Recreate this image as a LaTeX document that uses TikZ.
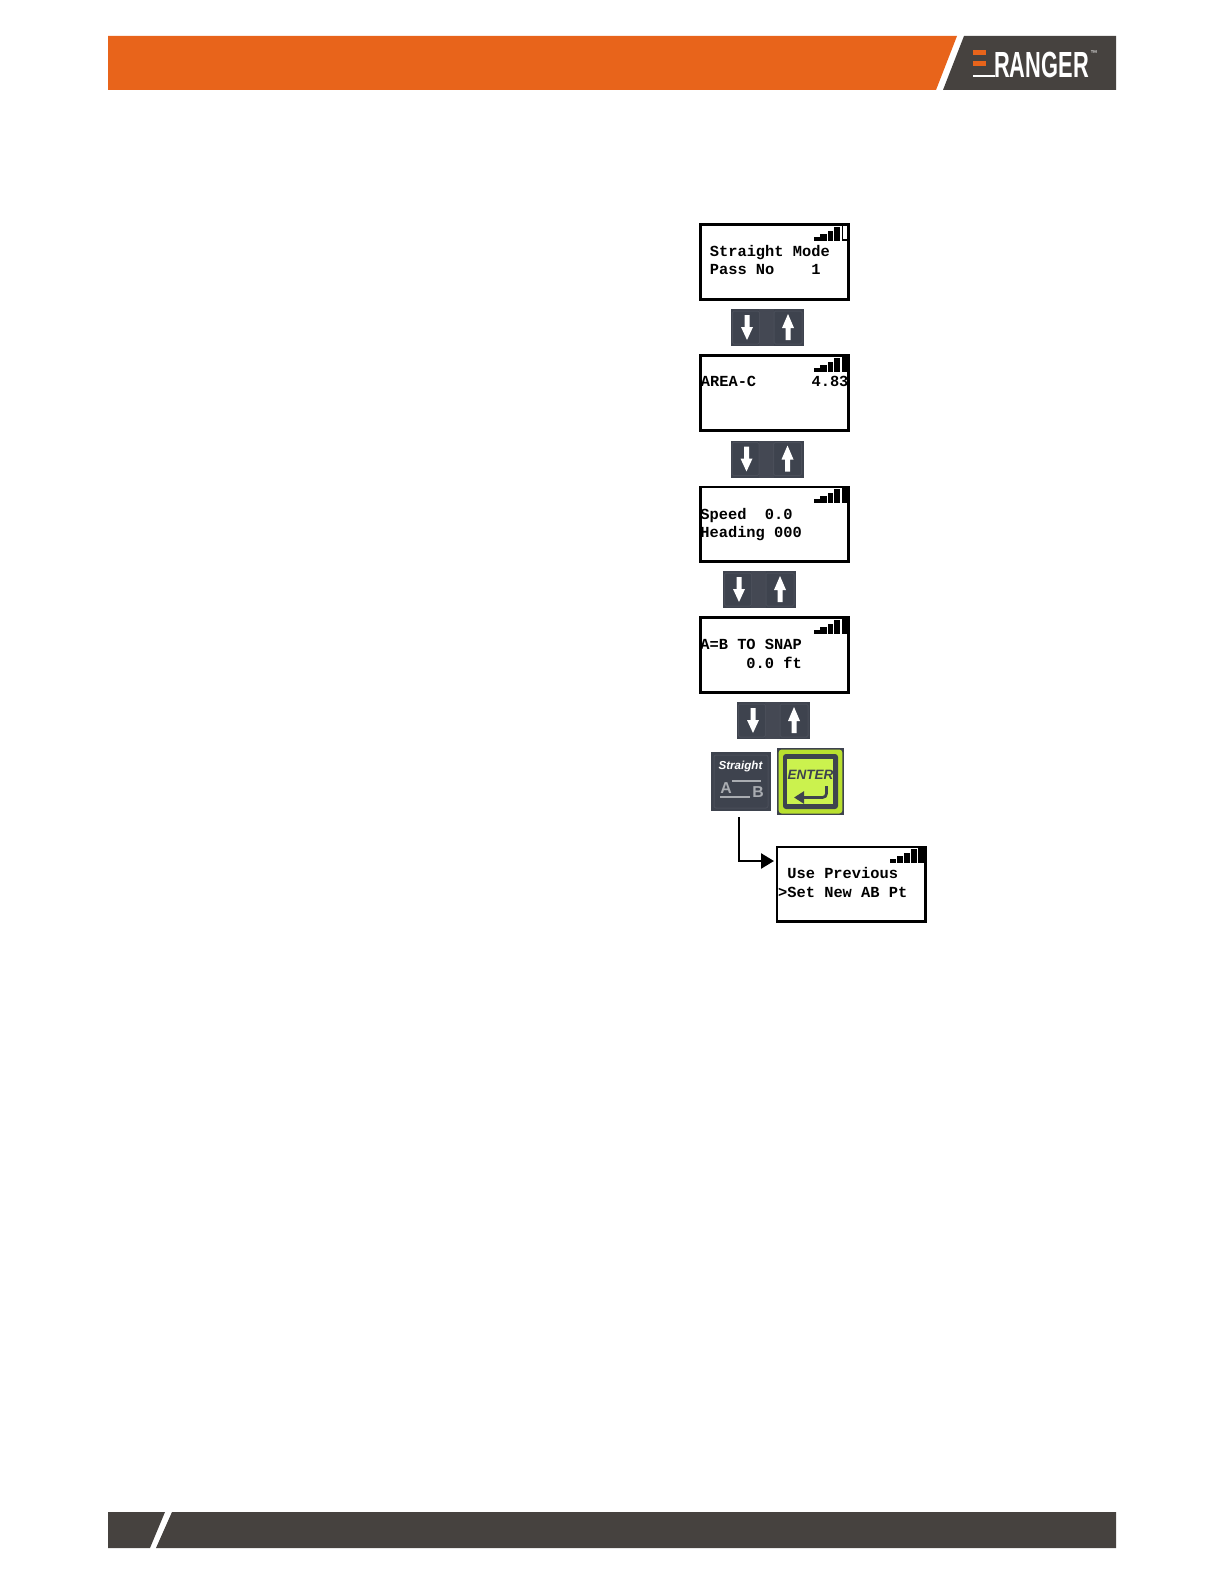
\documentclass[tikz,border=0pt]{standalone}
\usepackage{fontspec}
\setmainfont{Liberation Sans}
\setmonofont{Liberation Mono}
\usetikzlibrary{arrows.meta}
\definecolor{hdrorange}{HTML}{E8641B}
\definecolor{hdrdark}{HTML}{46423F}
\definecolor{keydark}{HTML}{3E434E}
\definecolor{keyline}{HTML}{4A4E59}
\definecolor{keygap}{HTML}{444853}
\definecolor{keygrey}{HTML}{A9ACB1}
\definecolor{limering}{HTML}{B9E02F}
\definecolor{limekey}{HTML}{CBF24E}
\tikzset{
  lcdbox/.style={draw=black,line width=0.052cm,fill=white,inner sep=0pt,minimum width=2.97cm,minimum height=1.5cm},
  lcdtext/.style={font=\fontsize{8.75pt}{10pt}\selectfont\ttfamily\bfseries,anchor=base west,inner sep=0pt,text=black},
  sigbar/.style={fill=black,draw=none},
  keybg/.style={fill=keydark,draw=none},
  keycap/.style={draw=keyline,line width=0.02cm,rounded corners=0.03cm,fill=keydark},
  keyarrow/.style={fill=white,draw=none},
}
\newcommand{\bars}[2]{%
  \fill[sigbar] (#1-36.5,#2+13.5) rectangle ++(6,4);
  \fill[sigbar] (#1-30,#2+10.5) rectangle ++(6.5,7);
  \fill[sigbar] (#1-22.5,#2+7.5) rectangle ++(5.8,10);
  \fill[sigbar] (#1-16,#2+3.5) rectangle ++(6,14);
}
\newcommand{\arrowkey}[3]{%
  \node[keybg,minimum width=1.46cm,minimum height=0.74cm,inner sep=0pt,anchor=north west] (#3) at (#1,#2) {};
  \fill[keygap] (#1+28,#2) rectangle ++(15,37);
  \draw[keycap] (#1+1.5,#2+2) rectangle ++(27,33);
  \draw[keycap] (#1+43,#2+2) rectangle ++(28,33);
  \fill[keyarrow] (#1+13.5,#2+6) -- (#1+13.5,#2+18) -- (#1+10,#2+18) -- (#1+16,#2+31) -- (#1+22,#2+18) -- (#1+18.5,#2+18) -- (#1+18.5,#2+6) -- cycle;
  \fill[keyarrow] (#1+54.5,#2+31) -- (#1+54.5,#2+19) -- (#1+51,#2+19) -- (#1+57,#2+5) -- (#1+63,#2+19) -- (#1+59.5,#2+19) -- (#1+59.5,#2+31) -- cycle;
}
\begin{document}
\begin{tikzpicture}[x=0.02cm,y=-0.02cm]
\useasboundingbox (0,0) rectangle (1225,1585);
\fill[white] (0,0) rectangle (1225,1585);
% header
\fill[hdrorange] (108,36) -- (957,36) -- (936,90) -- (108,90) -- cycle;
\fill[hdrdark] (964,36) -- (1116,36) -- (1116,90) -- (943,90) -- cycle;
\fill[hdrorange] (973,50) rectangle (986,55);
\fill[hdrorange] (973,61) rectangle (986,65.7);
\draw[white,line width=0.052cm] (973,76) -- (995,76);
\node[text=white,font=\fontsize{20.7pt}{21pt}\selectfont\bfseries,anchor=base west,inner sep=0pt,xscale=0.6] (logo) at (994,77.3) {RANGER};
\node[text=white,font=\fontsize{4pt}{4pt}\selectfont,anchor=base west,inner sep=0pt] (tm) at (1090,56) {™};
% footer
\fill[hdrdark] (108,1512) -- (165,1512) -- (150,1548) -- (108,1548) -- cycle;
\fill[hdrdark] (172,1512) -- (1116,1512) -- (1116,1548) -- (156,1548) -- cycle;
% screen 1
\node[lcdbox,anchor=north west] (s1) at (699,223) {};
\bars{850}{223}
\draw[black,line width=0.03cm] (842.5,226) -- (842.5,240) -- (847.5,240);
\node[lcdtext] (s1a) at (709.5,256) {Straight Mode};
\node[lcdtext] (s1b) at (709.5,274.5) {Pass No\ \ \ \ 1};
\arrowkey{731}{309}{k1}
% screen 2
\node[lcdbox,anchor=north west] (s2) at (699,354) {};
\bars{850}{354}
\fill[sigbar] (841.5,354) rectangle ++(6.5,17.5);
\node[lcdtext] (s2a) at (700.5,386) {AREA-C\ \ \ \ \ \ 4.83};
\arrowkey{730.5}{440.5}{k2}
% screen 3
\node[lcdbox,anchor=north west] (s3) at (699,485.5) {};
\bars{850}{485.5}
\fill[sigbar] (841.5,485.5) rectangle ++(6.5,17.5);
\node[lcdtext] (s3a) at (700,519) {Speed\ \ 0.0};
\node[lcdtext] (s3b) at (700,537.5) {Heading 000};
\arrowkey{723}{571}{k3}
% screen 4
\node[lcdbox,anchor=north west] (s4) at (699,616) {};
\bars{850}{616}
\fill[sigbar] (841.5,616) rectangle ++(6.5,17.5);
\node[lcdtext] (s4a) at (700,649.5) {A=B TO SNAP};
\node[lcdtext] (s4b) at (700,668) {\ \ \ \ \ 0.0 ft};
\arrowkey{737}{702}{k4}
% straight key
\node[keybg,minimum width=1.2cm,minimum height=1.18cm,inner sep=0pt,anchor=north west] (st) at (711,752) {};
\draw[keyline,line width=0.02cm,rounded corners=0.04cm] (714,755) rectangle (768,808);
\node[text=white,font=\fontsize{6.6pt}{7pt}\selectfont\bfseries\itshape,inner sep=0pt] (stlab) at (740.5,766) {Straight};
\node[text=keygrey,font=\fontsize{9pt}{9pt}\selectfont\bfseries,anchor=base west,inner sep=0pt] (sta) at (720,793.5) {A};
\node[text=keygrey,font=\fontsize{9pt}{9pt}\selectfont\bfseries,anchor=base west,inner sep=0pt] (stb) at (752,797.5) {B};
\draw[keygrey,line width=0.03cm] (732,781) -- (761,781);
\draw[keygrey,line width=0.03cm] (720,797) -- (750,797);
% enter key
\node[fill=keydark,draw=none,minimum width=1.34cm,minimum height=1.34cm,inner sep=0pt,anchor=north west] (en) at (777,748) {};
\fill[limering,rounded corners=0.06cm] (778.7,749.5) rectangle (842.3,813.5);
\fill[keydark,rounded corners=0.06cm] (783,754) rectangle (838,809);
\fill[limekey] (787.3,759) rectangle (833.3,804);
\node[text=keydark,font=\fontsize{7.7pt}{9pt}\selectfont\bfseries\itshape,inner sep=0pt] (enlab) at (810.5,775) {ENTER};
\draw[keydark,line width=0.055cm,-{Triangle[length=0.2cm,width=0.24cm]},rounded corners=0.08cm] (826.5,786) -- (826.5,797.5) -- (794,797.5);
% connector
\coordinate (cstart) at (739,817);
\coordinate (cend) at (774,861);
% screen 5
\node[lcdbox,anchor=north west] (s5) at (775.5,845.5) {};
\bars{926.5}{845.5}
\fill[sigbar] (918,845.5) rectangle ++(6.5,17.5);
\node[lcdtext] (s5a) at (787,878.5) {Use Previous};
\node[lcdtext] (s5b) at (777.8,897.5) {>Set New AB Pt};
\draw[black,line width=0.052cm,-{Triangle[length=0.26cm,width=0.3cm]}] (cstart) |- (cend);
\end{tikzpicture}
\end{document}
